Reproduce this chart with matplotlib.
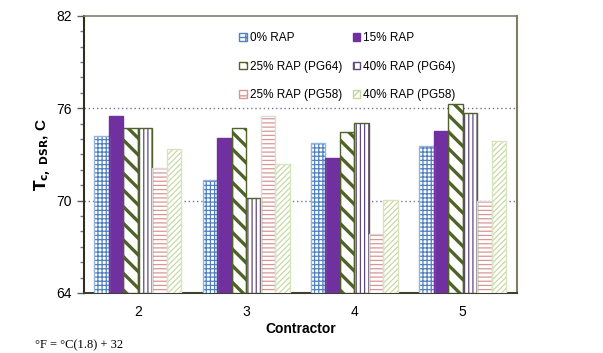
import numpy as np
import matplotlib
matplotlib.use('Agg')
import matplotlib.pyplot as plt
from matplotlib.patches import Patch
from matplotlib.ticker import MultipleLocator, FixedLocator

plt.rcParams['font.family'] = ['Liberation Sans', 'DejaVu Sans']

# data
contractors = ['2', '3', '4', '5']
series = ['0% RAP', '15% RAP', '25% RAP (PG64)', '40% RAP (PG64)',
          '25% RAP (PG58)', '40% RAP (PG58)']
rap0 = [74.2, 71.35, 73.75, 73.55]
rap15 = [75.5, 74.1, 72.8, 74.5]
rap25_pg64 = [74.7, 74.7, 74.45, 76.25]
rap40_pg64 = [74.7, 70.15, 75.05, 75.7]
rap25_pg58 = [72.1, 75.5, 67.8, 70.0]
rap40_pg58 = [73.35, 72.4, 70.05, 73.9]
values = [rap0, rap15, rap25_pg64, rap40_pg64, rap25_pg58, rap40_pg58]
yticks = [64, 70, 76, 82]

# style per series: face, hatch, hatch colour, edge colour, hatch width
styles = [
    ('white', '++++', '#4F81BD', '#95B3D7', 0.9),
    ('#7030A0', '', '#7030A0', '#7030A0', 0.9),
    ('white', '\\\\', '#4F6228', '#4F6228', 2.4),
    ('white', '||||', '#604A7B', '#4F6228', 0.9),
    ('white', '----', '#D99694', '#D9D9D9', 0.9),
    ('white', '//////', '#C3D69B', '#D7E4BD', 0.8),
]

fig = plt.figure(figsize=(6.03, 3.53), dpi=100)
ax = fig.add_axes([0.139, 0.170, 0.718, 0.785])

x = np.arange(len(contractors))
w = 0.134
handles = []
for i, (vals, st) in enumerate(zip(values, styles)):
    face, hatch, hcol, ecol, hlw = st
    pos = x + (i - 2.5) * w
    heights = np.array(vals) - 64
    with plt.rc_context({'hatch.linewidth': hlw, 'hatch.color': hcol}):
        bars = ax.bar(pos, heights, w, bottom=64, color=face, hatch=hatch,
                      edgecolor=hcol, linewidth=0, zorder=3)
        for b in bars:
            if hasattr(b, 'set_hatch_linewidth'):
                b.set_hatch_linewidth(hlw)
        ax.bar(pos, heights, w, bottom=64, fill=False, edgecolor=ecol,
               linewidth=1.0, zorder=4)
        h = Patch(facecolor=face, hatch=hatch[:2], edgecolor=hcol, linewidth=1.0)
        if hasattr(h, 'set_hatch_linewidth'):
            h.set_hatch_linewidth(min(hlw, 1.2))
        handles.append(h)

ax.set_xlim(-0.5, 3.5)
ax.set_ylim(64, 82)
ax.set_xticks(x)
ax.set_xticklabels(contractors, fontsize=10)
ax.tick_params(axis='x', length=0, pad=9)
ax.yaxis.set_major_locator(FixedLocator(yticks))
ax.yaxis.set_minor_locator(MultipleLocator(1))
ax.tick_params(axis='y', which='major', length=5, width=1, color='#5F5F5F',
               labelsize=10, direction='out')
ax.tick_params(axis='y', which='minor', length=3, width=1, color='#7F6F9F',
               direction='out')

for yv in [70, 76]:
    ax.axhline(yv, color='#7F6F9F', linestyle=(0, (1, 2)), linewidth=1.0, zorder=1)

ax.spines['left'].set_color('#2F2F20')
ax.spines['left'].set_linewidth(1.5)
ax.spines['right'].set_color('#7F7F60')
ax.spines['right'].set_linewidth(1.5)
ax.spines['top'].set_color('#7F7F70')
ax.spines['top'].set_linewidth(1.2)
ax.spines['bottom'].set_color('#3F3F30')
ax.spines['bottom'].set_linewidth(1.5)

ax.set_xlabel('Contractor', fontsize=10, fontweight='bold', labelpad=2)
ax.set_ylabel(r'$\mathbf{T}_{\mathbf{c,\ DSR}}$, C', fontsize=11,
              fontweight='bold', labelpad=2)

# legend filled row by row like the original
order = [0, 2, 4, 1, 3, 5]
ax.legend([handles[k] for k in order], [series[k] for k in order], ncol=2,
          loc='upper left', bbox_to_anchor=(0.335, 0.98), frameon=False,
          fontsize=8.5, handlelength=0.6, handleheight=0.6, handletextpad=0.25,
          columnspacing=0.9, labelspacing=1.4)

fig.text(0.058, 0.012, '°F = °C(1.8) + 32', fontsize=9,
         family=['Liberation Serif', 'DejaVu Serif'])

fig.savefig('out.png', dpi=100)
